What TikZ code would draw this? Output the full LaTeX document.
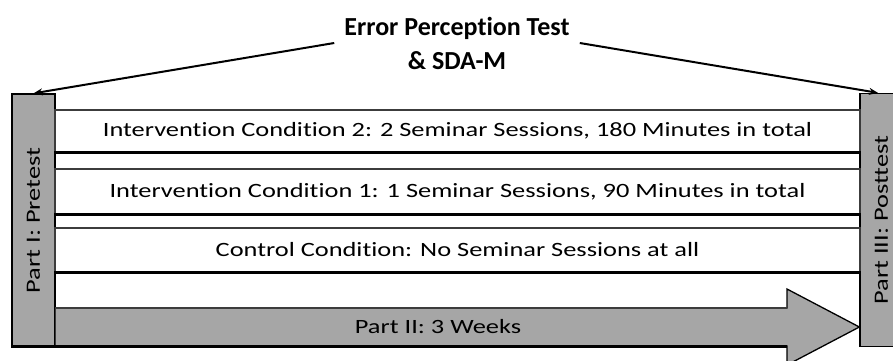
\documentclass[tikz,border=0pt]{standalone}
\usepackage{fontspec}
\setmainfont{Carlito}[Ligatures=NoCommon]
\newfontfamily\widefont{Carlito}[FakeStretch=1.3, Ligatures=NoCommon]
\usetikzlibrary{arrows.meta}
\definecolor{boxgray}{RGB}{166,166,166}
\definecolor{edgegray}{RGB}{60,60,60}
\tikzset{
  sidebox/.style={draw=black, line width=1.3pt, fill=boxgray, rotate=90,
    minimum width=253pt, minimum height=43pt, inner sep=0pt,
    font=\widefont\fontsize{20.3}{24}\selectfont},
  rowbox/.style={draw=edgegray, line width=1.2pt, fill=white, inner sep=0pt,
    minimum width=805pt, font=\widefont\fontsize{20.3}{24}\selectfont},
  heavy/.style={draw=black, line width=2.6pt},
  pointer/.style={draw=black, line width=2pt, -{Stealth[length=9pt,width=7pt]}},
  titletext/.style={font=\bfseries\fontsize{26}{34}\selectfont, align=center, inner sep=10pt},
  labeltext/.style={font=\widefont\fontsize{20.3}{24}\selectfont, inner sep=0pt}
}
\begin{document}
\begin{tikzpicture}[x=1pt,y=-1pt]
\path[use as bounding box] (0,0) rectangle (893,360);
\clip (0,0) rectangle (893,360);
% side boxes
\node[sidebox] (pre) at (33.5,220.5) {Part I: Pretest};
\node[sidebox] (post) at (881.5,220) {Part III: Posttest};
\draw[heavy] (pre.north east |- 0,346.5) -- (pre.south east |- 0,346.5);
% rows
\node[rowbox, minimum height=42pt] (row1) at (457.5,131) {Intervention Condition 2: 2 Seminar Sessions, 180 Minutes in total};
\node[rowbox, minimum height=45pt] (row2) at (457.5,191.5) {Intervention Condition 1: 1 Seminar Sessions, 90 Minutes in total};
\node[rowbox, minimum height=44pt] (row3) at (457.5,250) {Control Condition: No Seminar Sessions at all};
\draw[heavy] (row1.south west) -- (row1.south east);
\draw[heavy] (row2.south west) -- (row2.south east);
\draw[heavy] (row3.south west) -- (row3.south east);
% arrow Part II
\coordinate (tip) at (post.north |- 0,327);
\draw[draw=black, line width=1.3pt, fill=boxgray]
  (55,308) -- (787,308) -- (787,289) -- (tip) -- (787,365) -- (787,346) -- (55,346) -- cycle;
\draw[draw=edgegray, line width=1.2pt] (55,308) -- (787,308);
\draw[heavy] (55,346.3) -- (787,346.3);
\node[labeltext] (weeks) at (438,327) {Part II: 3 Weeks};
% title and pointers
\node[titletext] (title) at (457,43) {Error Perception Test\\\& SDA-M};
\draw[pointer] (title.west) -- (pre.east);
\draw[pointer] (title.east) -- ([xshift=-3.5pt]post.east);
\end{tikzpicture}
\end{document}
